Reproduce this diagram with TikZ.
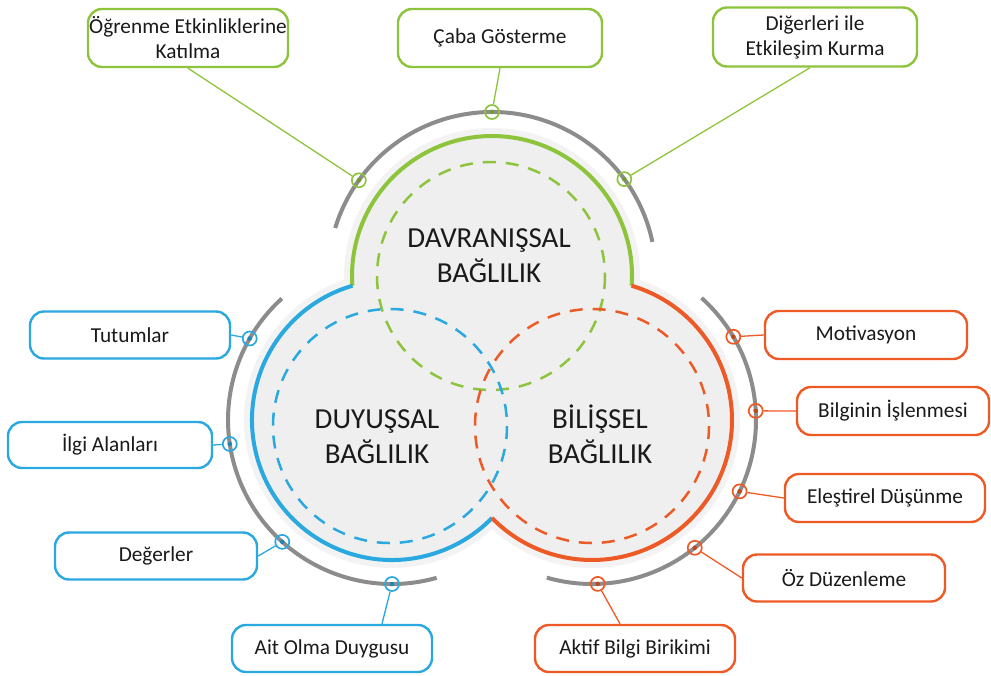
\documentclass[tikz,border=0pt]{standalone}
\usepackage{fontspec}
\setmainfont{Carlito}
\usetikzlibrary{calc}
\definecolor{cgreen}{HTML}{8DC43C}
\definecolor{cblue}{HTML}{2AA8E0}
\definecolor{corange}{HTML}{EE5A26}
\definecolor{cgray}{HTML}{8C8C8C}
\definecolor{ctext}{HTML}{1A1A1A}
\definecolor{chalo}{HTML}{F3F3F3}
\definecolor{cfill}{HTML}{EFEFEF}
\begin{document}
\begin{tikzpicture}[x=1pt,y=-1pt,
 box/.style={draw=#1, line width=2.4pt, rounded corners=14pt, fill=white, minimum width=200pt, minimum height=47pt, align=center, inner sep=1pt, text=ctext, font=\fontsize{21.3}{25}\selectfont},
 big/.style={align=center, text=ctext, font=\fontsize{29}{35}\selectfont},
 mk/.style={circle, draw=#1, line width=1.7pt, minimum size=14pt, inner sep=0pt, path picture={\fill[#1!80!black] (path picture bounding box.center) circle (2.3pt);}},
 conn/.style={draw=#1, line width=1.3pt},
 grayarc/.style={draw=cgray, line width=4pt},
 solidarc/.style={draw=#1, line width=4pt},
 dashc/.style={draw=#1, line width=2.5pt, dash pattern=on 13pt off 10pt},
]
\useasboundingbox (0,0) rectangle (991,675);
\coordinate (G) at (492,276);
\coordinate (B) at (392,420);
\coordinate (O) at (592,420);
\coordinate (Gd) at (491,276);
\coordinate (Bd) at (390,426);
\coordinate (Od) at (592,426);

% halo and fill
\fill[chalo] (G) circle[radius=148] (B) circle[radius=148] (O) circle[radius=148];
\fill[cfill] (G) circle[radius=140] (B) circle[radius=140] (O) circle[radius=140];

% dashed inner circles
\draw[dashc=cgreen] (Gd) circle[radius=114];
\draw[dashc=cblue] (Bd) circle[radius=117];
\draw[dashc=corange] (Od) circle[radius=117];

% solid outer arcs
\draw[solidarc=cgreen] (G) ++(4:140) arc[start angle=4, end angle=-184, radius=140];
\draw[solidarc=cblue] (B) ++(-106.4:140) arc[start angle=-106.4, end angle=-315.6, radius=140];
\draw[solidarc=corange] (O) ++(135.6:140) arc[start angle=135.6, end angle=-73.6, radius=140];

% gray arcs
\draw[grayarc] (G) ++(-12:164) arc[start angle=-12, end angle=-163, radius=164];
\draw[grayarc] (B) ++(74.2:164) arc[start angle=74.2, end angle=227.8, radius=164];
\draw[grayarc] (O) ++(-48.1:164) arc[start angle=-48.1, end angle=106, radius=164];

% boxes
\node[box=cgreen, minimum width=200pt, minimum height=58pt] (ogr) at (188,38) {Öğrenme Etkinliklerine\\Katılma};
\node[box=cgreen, minimum width=204pt, minimum height=58pt] (caba) at (500,38) {Çaba Gösterme};
\node[box=cgreen, minimum width=204pt, minimum height=59pt] (dig) at (815,37) {Diğerleri ile\\Etkileşim Kurma};
\node[box=cblue, minimum width=200pt] (tut) at (130,335) {Tutumlar};
\node[box=cblue, minimum width=204pt, minimum height=46pt] (ilgi) at (110,445) {İlgi Alanları};
\node[box=cblue, minimum width=202pt] (deg) at (156,556) {Değerler};
\node[box=cblue, minimum width=200pt, minimum height=47pt] (ait) at (332,648.5) {Ait Olma Duygusu};
\node[box=corange, minimum width=200pt, minimum height=47pt] (akt) at (635,648.5) {Aktif Bilgi Birikimi};
\node[box=corange, minimum width=202pt, minimum height=48pt] (mot) at (866,335) {Motivasyon};
\node[box=corange, minimum width=192pt, minimum height=48pt] (bil) at (893,411) {Bilginin İşlenmesi};
\node[box=corange, minimum width=200pt, minimum height=48pt] (ele) at (885,498) {Eleştirel Düşünme};
\node[box=corange, minimum width=202pt] (oz) at (844,578) {Öz Düzenleme};

% markers
\node[mk=cgreen] (mg1) at ($(G)+(-144.3:164)$) {};
\node[mk=cgreen] (mg2) at ($(G)+(-90:164)$) {};
\node[mk=cgreen] (mg3) at ($(G)+(-36.2:164)$) {};
\node[mk=cblue] (mb1) at ($(B)+(-150.2:164)$) {};
\node[mk=cblue] (mb2) at ($(B)+(171.6:164)$) {};
\node[mk=cblue] (mb3) at ($(B)+(132:164)$) {};
\node[mk=cblue] (mb4) at ($(B)+(90:164)$) {};
\node[mk=corange] (mo1) at ($(O)+(-30.5:164)$) {};
\node[mk=corange] (mo2) at ($(O)+(-3.2:164)$) {};
\node[mk=corange] (mo3) at ($(O)+(25.8:164)$) {};
\node[mk=corange] (mo4) at ($(O)+(51.2:164)$) {};
\node[mk=corange] (mo5) at ($(O)+(88:164)$) {};

% connectors
\draw[conn=cgreen] (ogr.south) -- (mg1);
\draw[conn=cgreen] (caba.south) -- (mg2);
\draw[conn=cgreen] ([xshift=-5pt]dig.south) -- (mg3);
\draw[conn=cblue] (tut.east) -- (mb1);
\draw[conn=cblue] (ilgi.east) -- (mb2);
\draw[conn=cblue] (deg.east) -- (mb3);
\draw[conn=cblue] ([xshift=50pt]ait.north) -- (mb4);
\draw[conn=corange] (mot.west) -- (mo1);
\draw[conn=corange] (bil.west) -- (mo2);
\draw[conn=corange] (ele.west) -- (mo3);
\draw[conn=corange] (oz.west) -- (mo4);
\draw[conn=corange] ([xshift=-15pt]akt.north) -- (mo5);

% big labels
\node[big] (lg) at (489,256) {DAVRANIŞSAL\\BAĞLILIK};
\node[big] (lb) at (377,437) {DUYUŞSAL\\BAĞLILIK};
\node[big] (lo) at (600,434) {BİLİŞSEL\\BAĞLILIK};
\end{tikzpicture}
\end{document}
